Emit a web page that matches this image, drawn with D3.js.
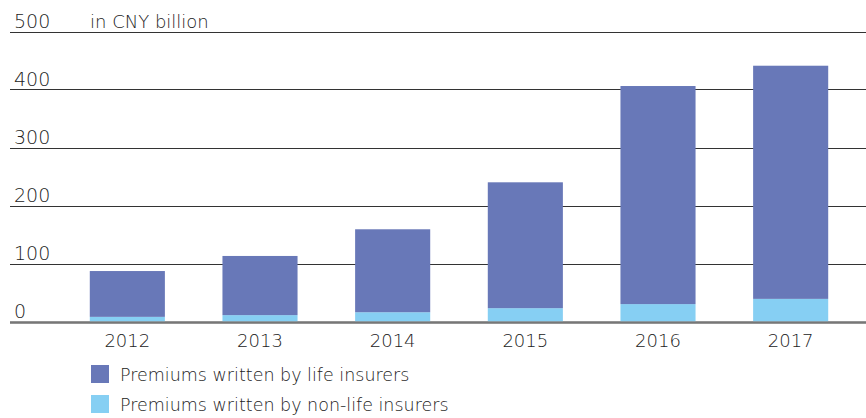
<!DOCTYPE html>
<html><head><meta charset="utf-8">
<script src="https://cdn.jsdelivr.net/npm/d3@7"></script>
<style>
body{margin:0;background:#fff;}
svg text{font-family:"DejaVu Sans",sans-serif;font-weight:200;fill:#222;}
</style></head>
<body><svg id="chart" width="866" height="418"></svg>
<script>
const years = ["2012","2013","2014","2015","2016","2017"];
const nonLife = [8, 11, 16, 23, 30, 39];
const life = [79, 102, 143, 217, 376, 402];
const yTicks = [0,100,200,300,400,500];
const seriesNames = ["Premiums written by life insurers","Premiums written by non-life insurers"];
const colors = ["#6878b8","#86cff3"];
const unitLabel = "in CNY billion";

const svg = d3.select("#chart");
const x = d3.scaleBand().domain(years).range([61,857]).paddingInner(0.434).paddingOuter(0.217);
const y = d3.scaleLinear().domain([0,500]).range([321.5,31.5]);

const g = svg.append("g");
g.selectAll("line").data(yTicks).join("line")
  .attr("x1",10).attr("x2",866)
  .attr("y1",d=>Math.round(y(d))+0.5).attr("y2",d=>Math.round(y(d))+0.5)
  .attr("stroke",d=>d===0?"#666":"#333").attr("stroke-width",d=>d===0?2:1);
g.selectAll("text").data(yTicks).join("text")
  .attr("x",14).attr("y",d=>y(d)-4)
  .attr("font-size",19).text(d=>d);
svg.append("text").attr("x",90).attr("y",y(500)-4).attr("font-size",18).text(unitLabel);

const data = years.map((yr,i)=>({year:yr, nonLife:nonLife[i], life:life[i]}));
const layers = d3.stack().keys(["nonLife","life"])(data);
const colorByKey = {life:colors[0], nonLife:colors[1]};
svg.append("g").selectAll("g").data(layers).join("g")
  .attr("fill",d=>colorByKey[d.key])
  .selectAll("rect").data(d=>d).join("rect")
  .attr("x",d=>x(d.data.year)).attr("width",x.bandwidth())
  .attr("y",d=>y(d[1])).attr("height",d=>y(d[0])-y(d[1]));

svg.append("line").attr("x1",10).attr("x2",866)
  .attr("y1",Math.round(y(0))+0.5).attr("y2",Math.round(y(0))+0.5)
  .attr("stroke","#777").attr("stroke-width",2);

svg.append("g").selectAll("text").data(years).join("text")
  .attr("x",d=>x(d)+x.bandwidth()/2).attr("y",347)
  .attr("text-anchor","middle").attr("font-size",18).text(d=>d);

const leg = svg.append("g").selectAll("g").data(seriesNames).join("g")
  .attr("transform",(d,i)=>`translate(91,${365+i*30})`);
leg.append("rect").attr("width",18).attr("height",18).attr("fill",(d,i)=>colors[i]);
leg.append("text").attr("x",29).attr("y",16).attr("font-size",17.5).text(d=>d);
</script></body></html>
